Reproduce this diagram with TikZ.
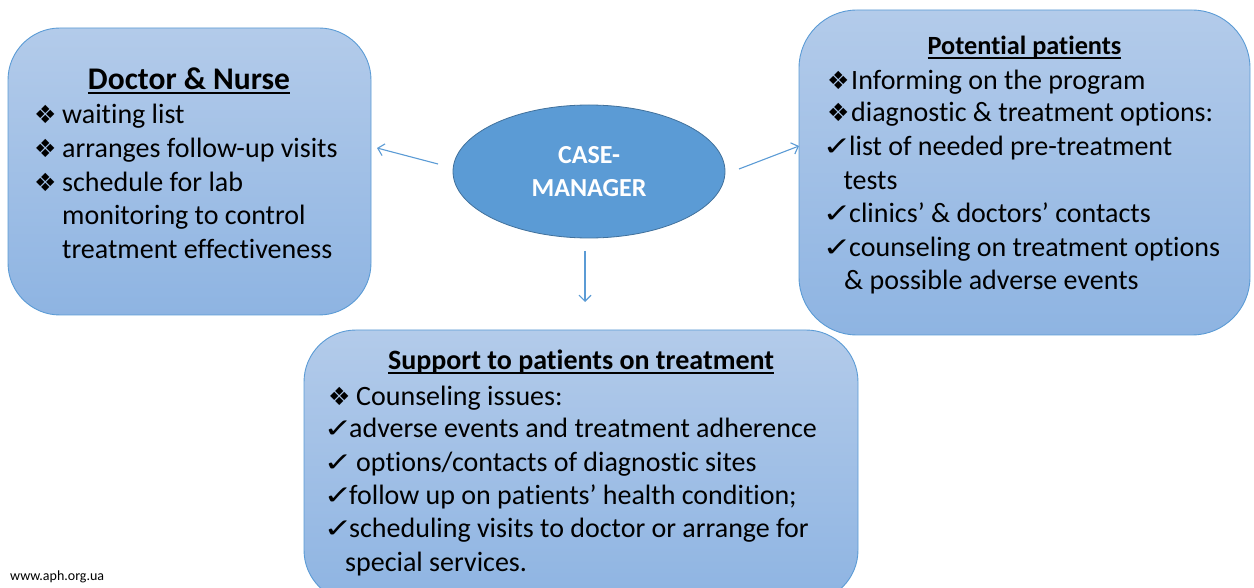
\documentclass[tikz,border=0pt]{standalone}
\usepackage{fontspec}
\setmainfont{Carlito}[Ligatures=NoCommon]
\newfontfamily\symfont{DejaVu Sans}
\usetikzlibrary{shapes.geometric,arrows.meta}

\definecolor{accent}{HTML}{5B9BD5}
\definecolor{ovalrim}{HTML}{41719C}
\definecolor{paneltop}{HTML}{B3CBEA}
\definecolor{panelbot}{HTML}{8EB4E2}

% bullet glyphs set in a fixed-width slot before the item text
\newcommand\dm[1]{\makebox[#1pt][l]{\symfont\fontsize{25}{25}\selectfont ❖}}
\newcommand\ck[1]{\makebox[#1pt][l]{\hspace{-4.5pt}\scalebox{1.45}[1.1]{\symfont\fontsize{24}{24}\selectfont ✓}}}
% underline that runs just below the baseline, through descenders
\newcommand\hdline[1]{\setbox0\hbox{#1}\rlap{\vrule height -2pt depth 3.7pt width \wd0}\box0}

\begin{document}
\begin{tikzpicture}[x=1pt,y=-1pt,
  panel/.style={draw=accent, line width=0.9pt, rounded corners=52pt,
    top color=paneltop, bottom color=panelbot, inner sep=0pt},
  item/.style={anchor=base west, inner sep=0pt, font=\fontsize{28}{33.5}\selectfont},
  head/.style={anchor=base, inner sep=0pt},
  link/.style={draw=accent, line width=1.1pt, -{Straight Barb[length=6pt,width=12pt]}}]
\useasboundingbox (0,0) rectangle (1254,588);
\clip (0,0) rectangle (1254,588);

% panels
\node[panel, minimum width=363pt, minimum height=287pt] (docbox) at (189.5,171.5) {};
\node[panel, minimum width=451pt, minimum height=325pt, rounded corners=58pt] (potbox) at (1024.5,172.5) {};
\node[panel, minimum width=554pt, minimum height=272pt] (supbox) at (581,466) {};

% central oval
\node[ellipse, draw=ovalrim, line width=0.8pt, fill=accent, minimum width=272pt, minimum height=133pt,
  inner sep=0pt, text=white, align=center, font=\bfseries\fontsize{26}{32.3}\selectfont]
  (cm) at (589,171.5) {CASE-\\MANAGER};

% connectors
\coordinate (lfrom) at (438,164);  \coordinate (lto) at (377,148);
\coordinate (rfrom) at (739,169);  \coordinate (rto) at (799,146);
\coordinate (dfrom) at (585,251);  \coordinate (dto) at (585,302);
\draw[link] (lfrom) -- (lto);
\draw[link] (rfrom) -- (rto);
\draw[link] (dfrom) -- (dto);

% Doctor & Nurse
\node[head, font=\bfseries\fontsize{31.5}{36}\selectfont] (dhead) at (189,90) {\hdline{Doctor \& Nurse}};
\node[item] (d1) at (34,123.3) {\dm{28}waiting list};
\node[item] (d2) at (34,157.3) {\dm{28}arranges follow-up visits};
\node[item] (d3) at (34,191.7) {\dm{28}schedule for lab};
\node[item] (d4) at (62,224.7) {monitoring to control};
\node[item] (d5) at (62,258.3) {treatment effectiveness};

% Potential patients
\node[head, font=\bfseries\fontsize{26.3}{30}\selectfont] (phead) at (1024.5,55) {\hdline{Potential patients}};
\node[item] (p1) at (827,89.3) {\dm{24}Informing on the program};
\node[item] (p2) at (827,121.7) {\dm{24}diagnostic \& treatment options:};
\node[item] (p3) at (827,156) {\ck{22}list of needed pre-treatment};
\node[item] (p4) at (843.3,189.3) {tests};
\node[item] (p5) at (827,222.7) {\ck{22}clinics’ \& doctors’ contacts};
\node[item] (p6) at (827,256.7) {\ck{22}counseling on treatment options};
\node[item] (p7) at (844,290) {\& possible adverse events};

% Support to patients on treatment
\node[head, font=\bfseries\fontsize{28}{33}\selectfont] (shead) at (581,370) {\hdline{Support to patients on treatment}};
\node[item] (s1) at (328,405) {\dm{28}Counseling issues:};
\node[item] (s2) at (328,437.5) {\ck{21}adverse events and treatment adherence};
\node[item] (s3) at (328,471.5) {\ck{28}options/contacts of diagnostic sites};
\node[item] (s4) at (328,504.5) {\ck{21}follow up on patients’ health condition;};
\node[item] (s5) at (328,537.5) {\ck{21}scheduling visits to doctor or arrange for};
\node[item] (s6) at (345,571) {special services.};

% footer
\node[anchor=base west, inner sep=0pt, font=\fontsize{14}{16}\selectfont] (web) at (10,580.7) {www.aph.org.ua};
\end{tikzpicture}
\end{document}
